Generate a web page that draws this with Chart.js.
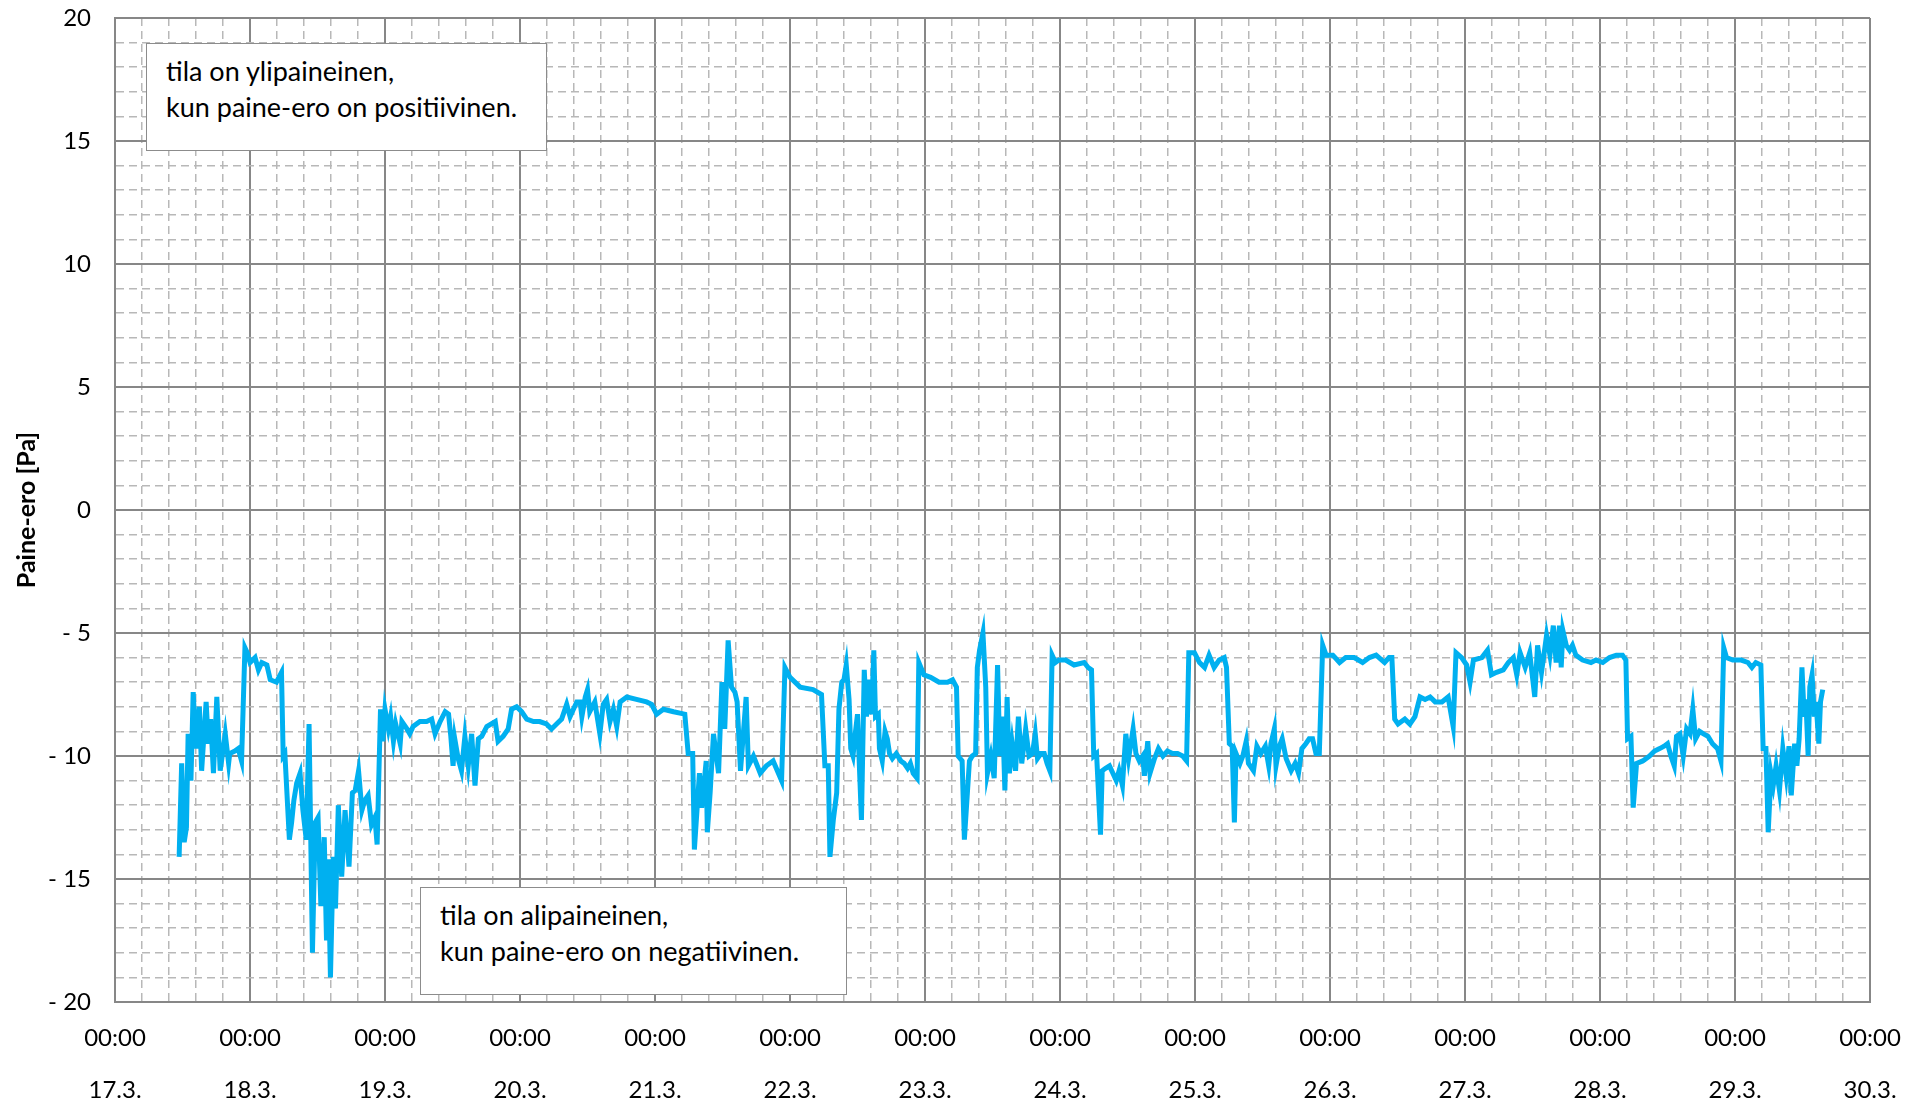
<!DOCTYPE html>
<html>
<head>
<meta charset="utf-8">
<script src="https://cdn.jsdelivr.net/npm/chart.js@4/dist/chart.umd.min.js"></script>
<style>
  body { margin: 0; background: #fff; }
  #wrap { position: relative; width: 1923px; height: 1105px; }
  #chart { display: block; }
  .note {
    position: absolute;
    box-sizing: border-box;
    background: #fff;
    border: 1.5px solid #8c8c8c;
    font: 27px Lato, sans-serif;
    line-height: 36px;
    color: #000;
    padding: 9px 0 0 19px;
    white-space: nowrap;
  }
</style>
</head>
<body>
<div id="wrap">
  <canvas id="chart" width="1923" height="1105"></canvas>
  <div class="note" style="left:146px;top:43px;width:401px;height:108px">tila on ylipaineinen,<br>kun paine-ero on positiivinen.</div>
  <div class="note" style="left:420px;top:887px;width:427px;height:108px">tila on alipaineinen,<br>kun paine-ero on negatiivinen.</div>
</div>
<script>
var dayLabels = ['17.3.', '18.3.', '19.3.', '20.3.', '21.3.', '22.3.', '23.3.',
                 '24.3.', '25.3.', '26.3.', '27.3.', '28.3.', '29.3.', '30.3.'];
var timeLabel = '00:00';
var yTitle = 'Paine-ero [Pa]';

// hours since 17.3. 00:00
var hours = [
  // 17.3. - 19.3.
  11.4, 11.85, 12.3, 12.7, 13.0, 13.5, 13.9, 14.4, 15.0, 15.4, 16.2, 16.6, 17.0, 17.5, 18.1,
  18.7, 19.6, 20.2, 20.4, 21.3, 21.9, 22.5, 23.1, 23.5, 24.0, 24.9, 25.5, 26.1, 27.0, 27.6,
  28.7, 29.6, 29.9, 30.2, 31.0, 31.4, 31.8, 32.3, 32.9, 33.4, 34.0, 34.5, 35.1, 35.6, 36.1,
  36.6, 37.2, 37.6, 37.9, 38.3, 38.8, 39.2, 39.7, 40.3, 40.9, 41.6, 42.2, 42.7, 43.3, 43.9,
  44.4, 45.0, 45.6, 46.2, 46.6, 47.2, 47.6,
  // 19.3. - 21.3.
  48.0, 48.6, 49.0, 49.5, 49.9, 50.7, 51.0, 51.9, 52.4, 53.0, 54.2, 55.4, 56.3, 56.9, 57.8,
  58.7, 59.3, 59.7, 60.1, 60.4, 61.0, 61.6, 62.2, 62.8, 63.4, 64.0, 64.6, 65.2, 66.1, 67.6,
  68.1, 69.0, 69.9, 70.5, 71.4, 72.3, 73.2, 74.4, 75.5, 76.7, 77.6, 78.5, 79.4, 80.3, 80.9,
  81.5, 82.1, 82.7, 83.0, 83.6, 84.0, 84.4, 85.3, 86.2, 86.8, 87.4, 88.0, 88.6, 89.2, 89.8,
  91.0, 92.7, 94.5, 95.4, 96.3, 96.9,
  // 21.3. - 22.3.
  97.5, 99.3, 101.3, 101.9, 102.7, 103.0, 103.9, 104.3, 105.1, 105.3, 105.8, 106.4, 107.3, 107.9, 108.4,
  109.0, 109.6, 110.2, 110.6, 111.2, 112.2, 112.6, 113.5, 114.7, 115.8, 117.0, 118.5, 119.1, 120.0, 121.8,
  124.1, 125.6, 126.2, 126.8, 127.1, 127.7, 128.3,
  // 22.3. - 24.3.
  128.7, 129.2, 129.6, 130.0, 130.5, 130.8, 131.2, 131.6, 132.0, 132.3, 132.7, 133.2, 133.6, 134.0, 134.5,
  134.9, 135.2, 135.7, 135.9, 136.4, 136.9, 137.3, 137.7, 138.2, 138.9, 139.7, 140.3, 140.9, 141.4, 141.9,
  142.6, 142.9, 143.8, 145.0, 146.5, 148.0, 148.9, 149.6, 149.9, 150.6, 151.0, 151.9, 152.4, 153.0, 153.3,
  153.7, 154.3, 154.8, 155.1, 155.7, 156.3, 156.9, 157.3, 157.8, 158.2, 158.6, 159.0, 159.5, 160.1, 160.6,
  161.2, 161.9, 162.5, 163.1, 163.6, 164.0, 164.6, 165.2, 165.7, 166.2, 166.6, 167.2, 167.8, 169.0, 170.5,
  172.3, 173.0, 173.6, 174.0, 174.5, 175.2, 175.5, 176.1,
  // 24.3. - 26.3.
  176.8, 177.4, 178.0, 178.5, 179.1, 179.7, 180.2, 181.0, 181.5, 182.1, 182.7, 183.0, 183.6, 184.0, 184.8,
  185.5, 186.3, 187.1, 188.0, 188.9, 189.8, 190.5, 190.9, 191.9, 192.8, 193.7, 194.5, 195.4, 196.3, 197.2,
  197.6, 198.1, 198.6, 199.0, 199.3, 200.0, 200.5, 201.1, 201.5, 202.4, 203.0, 203.7, 204.5, 205.1, 205.5,
  206.1, 206.4, 207.0, 207.5, 208.2, 209.1, 209.8, 210.4, 211.0, 211.7, 212.3, 212.9, 213.5, 214.1, 214.7,
  215.3, 216.5, 217.7, 218.8, 220.3, 221.8, 223.0, 224.2, 225.7, 226.5,
  // 26.3. - 27.3.
  227.0, 227.5, 228.1, 229.3, 230.2, 231.1, 232.0, 232.9, 233.8, 234.7, 235.9, 237.0, 237.9, 238.4, 239.4,
  240.3, 240.9, 241.5, 243.0, 244.0, 244.7, 245.6, 246.8, 247.7, 248.6, 249.2, 249.8, 250.7, 251.5, 252.4,
  252.9, 253.6, 254.5, 255.1, 255.7, 256.2,
  // 27.3. - 29.3.
  256.8, 257.1, 257.4, 258.0, 258.6, 259.1, 259.7, 260.9, 262.4, 263.3, 264.5, 265.7, 266.9, 268.0, 268.6,
  268.9, 269.5, 269.9, 270.5, 271.6, 272.8, 273.7, 274.6, 275.4, 276.0, 276.6, 277.2, 277.6, 278.2, 278.8,
  279.4, 280.0, 280.5, 281.0, 281.7, 282.4, 283.2, 284.0, 284.9, 285.5, 286.0, 286.5, 287.6, 289.1, 290.3,
  291.0, 291.7, 292.6, 293.0, 293.5, 293.9, 294.4, 294.8, 295.3, 295.9, 296.5, 297.1, 297.6, 298.0, 298.6,
  299.0, 299.4, 299.9, 300.3, 300.6, 301.0, 301.3, 301.7, 302.1, 302.4, 302.9, 303.2, 303.6
];

// Pa
var values = [
  // 17.3. - 19.3.
  -14.1, -10.3, -13.5, -12.9, -9.1, -11.0, -7.4, -9.7, -8.0, -10.6, -7.8, -9.5, -8.5, -10.7, -7.6,
  -10.6, -9.1, -10.3, -9.9, -9.8, -9.7, -10.2, -5.6, -5.8, -6.2, -6.0, -6.5, -6.2, -6.3, -6.9,
  -7.0, -6.6, -10.0, -9.9, -13.4, -12.7, -11.8, -11.1, -10.7, -12.2, -13.4, -8.7, -18.0, -12.7, -12.5,
  -16.1, -13.3, -17.5, -14.2, -19.0, -14.1, -16.2, -12.0, -14.9, -12.2, -14.5, -11.5, -11.4, -10.6, -12.2,
  -11.8, -11.6, -12.8, -12.5, -13.6, -8.1, -9.4,
  // 19.3. - 21.3.
  -8.1, -8.9, -8.4, -9.4, -8.7, -9.5, -8.6, -8.9, -9.1, -8.8, -8.6, -8.6, -8.5, -9.1, -8.6,
  -8.2, -8.3, -9.2, -10.4, -9.3, -10.1, -10.6, -9.2, -10.4, -9.1, -11.2, -9.3, -9.2, -8.8, -8.6,
  -9.4, -9.2, -8.9, -8.1, -8.0, -8.2, -8.5, -8.6, -8.6, -8.7, -8.9, -8.7, -8.5, -7.9, -8.4,
  -8.1, -7.8, -7.8, -8.4, -7.6, -7.3, -8.2, -7.8, -9.1, -7.9, -7.7, -8.6, -8.1, -8.8, -7.8,
  -7.6, -7.7, -7.8, -7.9, -8.3, -8.2,
  // 21.3. - 22.3.
  -8.1, -8.2, -8.3, -9.9, -9.9, -13.8, -10.7, -12.1, -10.2, -13.1, -11.5, -9.1, -10.7, -7.0, -8.9,
  -5.3, -7.2, -7.4, -7.8, -10.6, -7.6, -10.4, -10.0, -10.7, -10.4, -10.2, -11.0, -6.4, -6.8, -7.2,
  -7.3, -7.5, -10.4, -10.4, -14.1, -12.6, -11.5,
  // 22.3. - 24.3.
  -8.1, -7.0, -6.9, -6.3, -7.7, -9.7, -10.0, -9.1, -8.3, -10.2, -12.6, -6.5, -8.4, -6.9, -8.3,
  -5.7, -8.4, -8.3, -9.7, -10.2, -9.0, -9.3, -9.9, -10.1, -9.9, -10.2, -10.3, -10.5, -10.3, -10.7,
  -10.9, -6.2, -6.7, -6.8, -7.0, -7.0, -6.9, -7.2, -10.0, -10.2, -13.4, -10.2, -10.0, -9.9, -6.4,
  -5.7, -5.0, -7.2, -10.7, -10.0, -10.9, -6.3, -10.0, -8.4, -11.4, -7.6, -10.7, -9.5, -10.6, -8.4,
  -10.3, -8.9, -10.0, -9.9, -9.1, -10.1, -9.9, -9.9, -10.3, -10.6, -5.9, -6.2, -6.1, -6.1, -6.3,
  -6.2, -6.4, -6.5, -10.0, -9.9, -13.2, -10.6, -10.5,
  // 24.3. - 26.3.
  -10.4, -10.7, -11.0, -10.6, -11.2, -9.1, -10.1, -8.9, -9.9, -10.2, -10.0, -10.8, -9.4, -10.7, -10.1,
  -9.7, -10.0, -9.8, -9.9, -9.9, -10.0, -10.2, -5.8, -5.8, -6.2, -6.4, -5.9, -6.4, -6.1, -6.0,
  -6.4, -9.5, -9.6, -12.7, -9.9, -10.3, -10.0, -9.4, -10.3, -10.6, -9.6, -9.9, -9.6, -10.4, -9.5,
  -8.9, -10.4, -9.6, -9.3, -10.1, -10.6, -10.3, -10.7, -9.7, -9.5, -9.3, -9.3, -9.9, -9.9, -5.5,
  -5.9, -5.9, -6.2, -6.0, -6.0, -6.2, -6.0, -5.9, -6.2, -6.0,
  // 26.3. - 27.3.
  -6.0, -8.5, -8.7, -8.5, -8.7, -8.4, -7.6, -7.7, -7.6, -7.8, -7.8, -7.6, -8.8, -5.8, -6.0,
  -6.3, -7.0, -6.1, -6.0, -5.7, -6.7, -6.6, -6.5, -6.2, -6.0, -6.7, -5.8, -6.4, -5.8, -7.6,
  -5.5, -6.6, -5.1, -5.9, -4.7, -6.2,
  // 27.3. - 29.3.
  -4.7, -6.4, -4.9, -5.5, -5.7, -5.5, -5.9, -6.1, -6.2, -6.1, -6.2, -6.0, -5.9, -5.9, -6.1,
  -9.3, -9.2, -12.1, -10.3, -10.2, -10.0, -9.8, -9.7, -9.6, -9.5, -10.0, -10.4, -9.2, -9.1, -10.0,
  -8.9, -9.1, -8.1, -9.3, -9.0, -9.1, -9.2, -9.5, -9.7, -10.2, -5.6, -6.0, -6.1, -6.1, -6.2,
  -6.4, -6.2, -6.3, -9.7, -9.7, -13.1, -10.7, -11.2, -10.4, -11.4, -9.7, -10.8, -9.6, -11.6, -9.5,
  -10.4, -9.3, -6.4, -8.4, -7.7, -10.0, -7.2, -6.7, -8.4, -7.8, -9.5, -7.8, -7.3
];

var majorColor = '#878787';
var minorColor = '#b8b8b8';

function isMajor(v, step) {
  return Math.abs(v / step - Math.round(v / step)) < 1e-6;
}

// major lines solid, minor lines dashed
function gridColor(step) {
  return function (c) { return c.tick && isMajor(c.tick.value, step) ? majorColor : minorColor; };
}
function gridWidth(step) {
  return function (c) { return c.tick && isMajor(c.tick.value, step) ? 2 : 1.5; };
}
function gridDash(step) {
  return function (c) { return (!c.tick || isMajor(c.tick.value, step)) ? [] : [8, 5]; };
}

var points = [];
for (var i = 0; i < Math.min(hours.length, values.length); i++) {
  points.push({ x: hours[i] / 24, y: values[i] });
}

var ctx = document.getElementById('chart').getContext('2d');
var chart = new Chart(ctx, {
  type: 'line',
  data: {
    datasets: [{
      data: points,
      borderColor: '#00b0f0',
      borderWidth: 5,
      pointRadius: 0,
      tension: 0,
      fill: false
    }]
  },
  options: {
    responsive: false,
    animation: false,
    devicePixelRatio: 1,
    layout: { padding: { left: 0, right: 53, top: 18, bottom: 0 } },
    plugins: {
      legend: { display: false },
      tooltip: { enabled: false }
    },
    scales: {
      x: {
        type: 'linear',
        min: 0,
        max: dayLabels.length - 1,
        afterFit: function (s) { s.height = 103; },
        ticks: {
          stepSize: 0.2,
          autoSkip: false,
          maxRotation: 0,
          padding: 10,
          color: '#000',
          font: { family: 'Lato', size: 24, lineHeight: 2.17 },
          callback: function (v) {
            return isMajor(v, 1) ? [timeLabel, dayLabels[Math.round(v)]] : '';
          }
        },
        grid: { drawTicks: false, color: gridColor(1), lineWidth: gridWidth(1) },
        border: { color: majorColor, width: 2, dash: gridDash(1) }
      },
      y: {
        min: -20,
        max: 20,
        afterFit: function (s) {
          s.width = 115;
          s.paddingTop = 0;
          s.paddingBottom = 0;
        },
        ticks: {
          stepSize: 1,
          autoSkip: false,
          padding: 24,
          color: '#000',
          font: { family: 'Lato', size: 24 },
          callback: function (v) {
            if (!isMajor(v, 5)) return '';
            return v < 0 ? '- ' + Math.abs(v) : String(v);
          }
        },
        title: {
          display: true,
          text: yTitle,
          color: '#000',
          font: { family: 'Lato', size: 25, weight: 'bold' },
          padding: { top: 12, bottom: 0 }
        },
        grid: { drawTicks: false, color: gridColor(5), lineWidth: gridWidth(5) },
        border: { color: majorColor, width: 2, dash: gridDash(5) }
      }
    }
  }
});
</script>
</body>
</html>
